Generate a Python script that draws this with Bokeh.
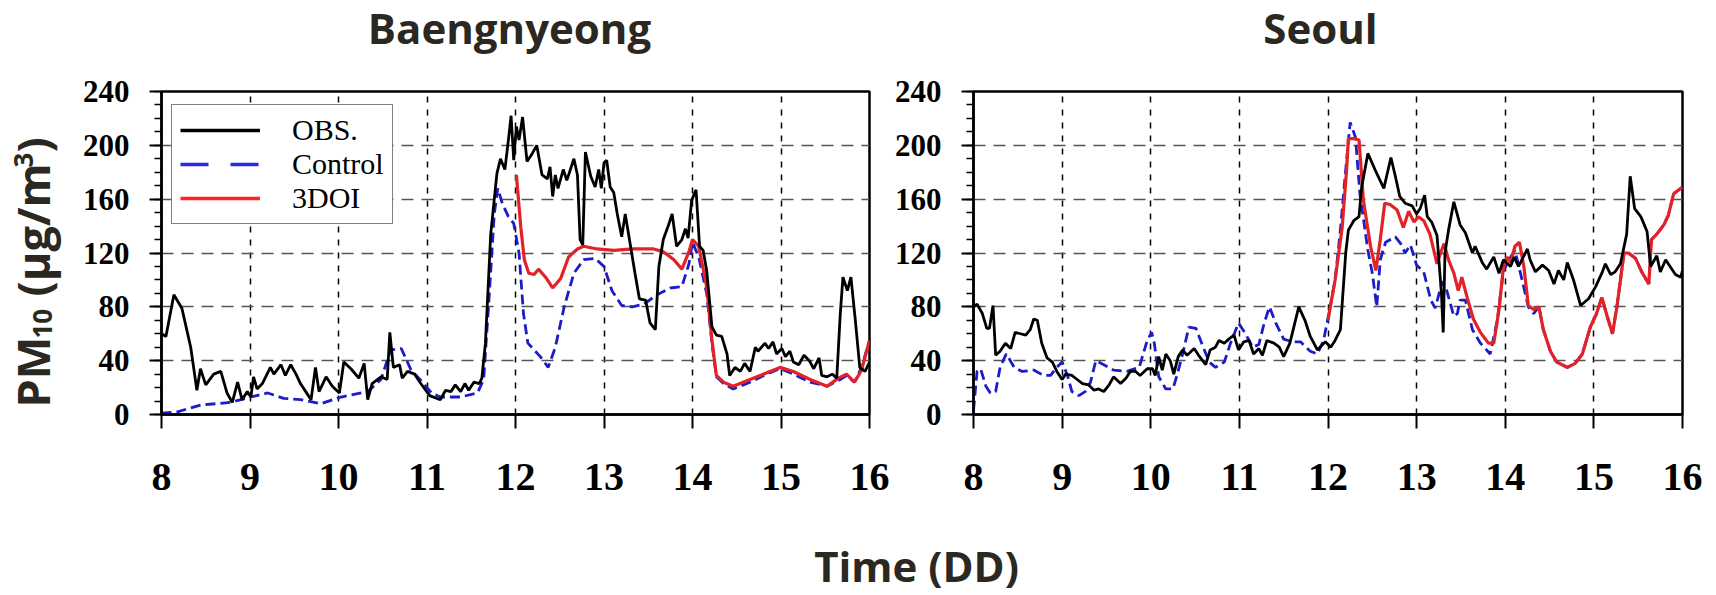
import math
from bokeh.plotting import figure
from bokeh.models import Range1d, FixedTicker, Legend, LegendItem
from bokeh.layouts import row, column
from bokeh.embed import file_html
from bokeh.resources import INLINE
from bokeh.core.properties import value

# ---------------- data ----------------
days = [8, 9, 10, 11, 12, 13, 14, 15, 16]
y_ticks = [0, 40, 80, 120, 160, 200, 240]
panel_titles = ["Baengnyeong", "Seoul"]
legend_labels = ["OBS.", "Control", "3DOI"]

bae_obs_t = [8.00, 8.05, 8.14, 8.23, 8.33, 8.40, 8.44, 8.50, 8.59, 8.67, 8.74, 8.80, 8.86, 8.91, 8.97,
             9.01, 9.04, 9.08, 9.14, 9.23, 9.27, 9.35, 9.40, 9.46, 9.52, 9.57, 9.63, 9.69, 9.74, 9.78,
             9.86, 9.93, 10.01, 10.06, 10.14, 10.23, 10.29, 10.33, 10.38, 10.48, 10.55, 10.58, 10.62,
             10.69, 10.72, 10.78, 10.86, 10.93, 11.03, 11.15, 11.21, 11.27, 11.32, 11.38, 11.43, 11.47,
             11.53, 11.59, 11.62, 11.66, 11.72, 11.79, 11.83, 11.88, 11.92, 11.95, 11.98, 12.01, 12.04,
             12.08, 12.13, 12.19, 12.24, 12.30, 12.36, 12.39, 12.42, 12.45, 12.48, 12.54, 12.58, 12.66,
             12.70, 12.73, 12.76, 12.79, 12.85, 12.90, 12.94, 12.97, 13.00, 13.03, 13.07, 13.11, 13.15,
             13.20, 13.24, 13.30, 13.35, 13.40, 13.47, 13.52, 13.58, 13.62, 13.67, 13.73, 13.77, 13.82,
             13.88, 13.92, 13.95, 13.99, 14.04, 14.08, 14.12, 14.16, 14.22, 14.27, 14.33, 14.39, 14.42,
             14.48, 14.54, 14.59, 14.65, 14.71, 14.74, 14.82, 14.86, 14.91, 14.95, 15.01, 15.05, 15.10,
             15.14, 15.20, 15.26, 15.32, 15.37, 15.43, 15.46, 15.52, 15.58, 15.63, 15.67, 15.70, 15.75,
             15.79, 15.84, 15.89, 15.95, 16.00]
bae_obs = [60, 58, 89, 79, 50, 18, 34, 22, 30, 32, 16, 9, 24, 11, 17,
           13, 28, 19, 23, 35, 30, 37, 29, 37, 30, 23, 17, 11, 35, 17,
           28, 21, 16, 39, 34, 27, 38, 11, 23, 28, 26, 61, 35,
           37, 27, 32, 30, 23, 14, 11, 18, 17, 22, 17, 23, 18,
           24, 23, 27, 53, 134, 179, 190, 182, 204, 222, 189, 214, 204,
           221, 188, 194, 200, 178, 175, 184, 162, 178, 168, 182, 174, 190,
           178, 130, 126, 195, 177, 169, 182, 168, 187, 189, 169, 165, 149,
           132, 149, 125, 105, 86, 85, 68, 63, 110, 130, 141, 149, 125,
           130, 138, 131, 159, 167, 125, 122, 107, 65, 59, 58, 45, 29,
           35, 32, 38, 32, 50, 47, 53, 49, 54, 45, 49, 43, 47,
           39, 37, 44, 40, 34, 42, 29, 28, 30, 27, 75, 102, 92,
           102, 70, 35, 32, 39]

bae_ctl_t = [8.00, 8.18, 8.44, 8.78, 9.01, 9.20, 9.38, 9.57, 9.80, 10.03, 10.33, 10.48, 10.59, 10.71,
             10.82, 10.95, 11.05, 11.15, 11.38, 11.57, 11.64, 11.70, 11.76, 11.80, 11.85, 11.92, 11.98,
             12.04, 12.09, 12.14, 12.21, 12.28, 12.37, 12.45, 12.55, 12.66, 12.77, 12.90, 13.00, 13.09,
             13.20, 13.32, 13.45, 13.60, 13.75, 13.88, 13.96, 14.00, 14.07, 14.16, 14.22, 14.27, 14.35,
             14.46, 14.65, 14.84, 14.99, 15.14, 15.33, 15.52, 15.67, 15.74, 15.83, 15.91, 16.00]
bae_ctl = [1, 2, 7, 9, 13, 16, 12, 11, 8, 13, 17, 26, 48, 49,
           33, 24, 16, 13, 13, 16, 26, 85, 149, 168, 157, 147, 142,
           120, 75, 53, 48, 43, 35, 50, 80, 105, 115, 116, 110, 92,
           81, 80, 82, 89, 94, 95, 112, 128, 117, 90, 53, 28, 23,
           19, 24, 30, 34, 30, 24, 21, 26, 29, 24, 35, 55]

bae_doi_t = [12.01, 12.06, 12.10, 12.15, 12.21, 12.26, 12.34, 12.42, 12.51, 12.60, 12.70, 12.77, 12.92,
             13.11, 13.33, 13.56, 13.67, 13.79, 13.88, 13.96, 14.00, 14.07, 14.16, 14.22, 14.27, 14.35,
             14.46, 14.65, 14.84, 14.99, 15.14, 15.33, 15.52, 15.65, 15.74, 15.83, 15.91, 16.00]
bae_doi = [178, 139, 115, 105, 104, 108, 102, 94, 101, 117, 123, 125, 123,
           122, 123, 123, 121, 115, 108, 121, 130, 125, 95, 55, 29, 24,
           21, 26, 31, 35, 32, 26, 21, 27, 30, 24, 33, 55]

seo_obs_t = [8.00, 8.04, 8.10, 8.15, 8.18, 8.22, 8.25, 8.30, 8.36, 8.42, 8.47, 8.53, 8.59, 8.64, 8.68,
             8.72, 8.77, 8.83, 8.89, 8.94, 9.00, 9.04, 9.11, 9.17, 9.23, 9.30, 9.36, 9.41, 9.47, 9.53,
             9.58, 9.66, 9.72, 9.77, 9.83, 9.88, 9.96, 10.02, 10.05, 10.09, 10.13, 10.17, 10.22, 10.26,
             10.31, 10.36, 10.41, 10.49, 10.54, 10.62, 10.67, 10.73, 10.77, 10.83, 10.88, 10.94, 10.99,
             11.05, 11.11, 11.16, 11.22, 11.26, 11.31, 11.39, 11.45,
             11.50, 11.57, 11.67, 11.74, 11.80, 11.88, 11.97, 12.03, 12.08, 12.14, 12.20, 12.23, 12.29,
             12.35, 12.38, 12.45, 12.53, 12.63, 12.71, 12.76, 12.81, 12.87, 12.95, 13.00, 13.04, 13.09,
             13.12, 13.17, 13.23, 13.28, 13.30, 13.32, 13.36, 13.42, 13.49, 13.55, 13.63, 13.66, 13.74,
             13.79, 13.87, 13.93, 13.98, 14.06, 14.10, 14.15, 14.25, 14.28, 14.34, 14.42, 14.49, 14.55,
             14.60, 14.66, 14.70, 14.77, 14.85, 14.94, 15.02, 15.09, 15.13, 15.19, 15.24, 15.30, 15.37,
             15.41, 15.46, 15.53, 15.60, 15.64, 15.71, 15.75, 15.81, 15.86, 15.92, 15.98, 16.00]
seo_obs = [80, 82, 75, 64, 64, 81, 44, 47, 53, 49, 61, 60, 59, 63, 71,
           70, 53, 42, 39, 32, 26, 30, 29, 26, 23, 22, 18, 19, 17, 22,
           28, 23, 27, 32, 32, 29, 34, 34, 29, 43, 33, 45, 40, 30,
           43, 48, 44, 49, 44, 37, 48, 50, 55, 53, 56, 59, 48,
           54, 55, 45, 49, 44, 55, 53, 50,
           43, 53, 80, 70, 58, 48, 54, 50, 55, 63, 120, 137, 144,
           147, 169, 194, 182, 168, 191, 177, 162, 157, 155, 149, 153, 163,
           147, 143, 133, 90, 61, 120, 137, 158, 141, 135, 120, 125, 113,
           108, 117, 105, 115, 110, 117, 110, 123, 115, 106, 111, 107, 97,
           107, 100, 113, 100, 81, 86, 95, 105, 112, 104, 106, 112, 134,
           177, 153, 147, 136, 110, 118, 106, 115, 110, 104, 102, 107]

seo_ctl_t = [8.00, 8.04, 8.08, 8.14, 8.19, 8.25, 8.30, 8.37, 8.46, 8.55, 8.68, 8.79, 8.87, 8.94, 9.00,
             9.06, 9.11, 9.19, 9.26, 9.32, 9.38, 9.47, 9.58, 9.73, 9.87, 9.96, 10.01, 10.04, 10.09, 10.17,
             10.25, 10.30, 10.36, 10.43, 10.51, 10.58, 10.66, 10.73, 10.83, 10.90, 10.99, 11.07, 11.15,
             11.22, 11.28, 11.34, 11.41, 11.50, 11.60, 11.69, 11.80, 11.88, 11.95, 12.01, 12.08, 12.14,
             12.20, 12.25, 12.31, 12.36, 12.45, 12.50, 12.55, 12.59, 12.65, 12.76, 12.82, 12.87, 12.93,
             13.00, 13.08, 13.16, 13.21, 13.29, 13.34, 13.42, 13.46, 13.49, 13.55, 13.63, 13.72, 13.83,
             13.91, 13.98, 14.06, 14.11, 14.19, 14.26, 14.32, 14.38, 14.43, 14.51, 14.58, 14.70, 14.79,
             14.87, 14.96, 15.03, 15.09, 15.15, 15.21, 15.26, 15.34, 15.39, 15.47, 15.54, 15.62, 15.65,
             15.71, 15.79, 15.84, 15.90, 15.96, 16.00]
seo_ctl = [3, 32, 34, 21, 16, 17, 35, 45, 35, 32, 33, 29, 29, 35, 39,
           29, 17, 14, 17, 24, 40, 37, 33, 32, 35, 55, 61, 53, 28, 19,
           19, 30, 45, 65, 64, 52, 39, 35, 39, 53, 68, 60, 50,
           52, 68, 80, 68, 56, 54, 54, 47, 45, 55, 75, 100, 137,
           182, 217, 206, 164, 122, 105, 80, 115, 128, 132, 127, 120, 126,
           111, 106, 85, 79, 99, 92, 73, 75, 85, 85, 63, 53, 45,
           70, 107, 117, 122, 100, 80, 75, 80, 63, 47, 39, 35, 38,
           45, 65, 75, 87, 73, 60, 80, 120, 120, 116, 106, 97, 130,
           134, 141, 148, 164, 167, 169]

seo_doi_t = [12.00, 12.08, 12.16, 12.21, 12.23, 12.29, 12.35, 12.40, 12.48, 12.54, 12.59, 12.64, 12.70,
             12.78, 12.85, 12.91, 12.97, 13.02, 13.08, 13.15, 13.23, 13.27, 13.31, 13.36, 13.42, 13.47,
             13.51, 13.57, 13.64, 13.72, 13.81, 13.87, 13.93, 13.98, 14.02, 14.06, 14.11, 14.16, 14.21,
             14.26, 14.32, 14.38, 14.43, 14.51, 14.58, 14.70, 14.79, 14.87, 14.96, 15.03, 15.09, 15.15,
             15.21, 15.26, 15.34, 15.39, 15.47, 15.54, 15.62, 15.65, 15.71, 15.79, 15.84, 15.90, 15.96,
             16.00]
seo_doi = [70, 100, 139, 182, 205, 205, 204, 159, 125, 107, 130, 157, 156,
           152, 139, 151, 143, 147, 144, 134, 112, 120, 127, 115, 105, 92,
           102, 87, 71, 61, 53, 53, 78, 110, 117, 113, 125, 128, 110,
           81, 78, 80, 63, 47, 39, 35, 38, 45, 65, 75, 87, 73,
           60, 80, 120, 120, 116, 106, 97, 130, 134, 141, 148, 164, 167,
           169]

for a, b in [(bae_obs_t, bae_obs), (bae_ctl_t, bae_ctl), (bae_doi_t, bae_doi),
             (seo_obs_t, seo_obs), (seo_ctl_t, seo_ctl), (seo_doi_t, seo_doi)]:
    assert len(a) == len(b), (len(a), len(b))

# ---------------- style ----------------
TXT = "#2b2822"
BLUE = "#1c1cc8"
RED = "#e32228"
SANS = value("Open Sans")
B_TOP, B_BOT = 20, 110
ROW_H = B_TOP + 323 + B_BOT


def blank(width, height, top=0, bottom=0):
    p = figure(width=width, height=height, x_range=Range1d(0, width),
               y_range=Range1d(0, height - top - bottom),
               min_border=0, min_border_top=top, min_border_bottom=bottom,
               x_axis_location=None, y_axis_location=None,
               toolbar_location=None, output_backend="svg")
    p.title = None
    p.outline_line_color = None
    p.grid.visible = False
    return p


def panel(width, bl, br, obs_t, obs, ctl_t, ctl, doi_t, doi, with_legend=False):
    p = figure(width=width, height=ROW_H, x_range=Range1d(8, 16), y_range=Range1d(0, 240),
               min_border_left=bl, min_border_right=br, min_border_top=B_TOP, min_border_bottom=B_BOT,
               toolbar_location=None, output_backend="svg")
    p.title = None
    p.outline_line_color = "black"
    p.outline_line_width = 2.5
    p.outline_line_alpha = 1.0

    p.xaxis.ticker = FixedTicker(ticks=days)
    p.yaxis.ticker = FixedTicker(ticks=y_ticks, minor_ticks=list(range(0, 241, 10)))
    for ax in (p.xaxis[0], p.yaxis[0]):
        ax.axis_line_width = 2.5
        ax.axis_line_color = "black"
        ax.major_tick_line_width = 2
        ax.major_tick_in = 0
        ax.minor_tick_in = 0
        ax.minor_tick_out = 7
        ax.minor_tick_line_width = 1.5
        ax.major_label_text_font = "Liberation Serif"
        ax.major_label_text_font_style = "bold"
        ax.major_label_text_color = "black"
    p.xaxis.major_tick_out = 14
    p.xaxis.major_label_text_font_size = "40px"
    p.xaxis.major_label_standoff = 35
    p.yaxis.major_tick_out = 12
    p.yaxis.major_label_text_font_size = "31px"
    p.yaxis.major_label_standoff = 20

    p.xgrid.ticker = FixedTicker(ticks=days[1:-1])
    p.xgrid.grid_line_color = "black"
    p.xgrid.grid_line_dash = "6 7"
    p.xgrid.grid_line_width = 1.5
    p.ygrid.ticker = FixedTicker(ticks=y_ticks[1:-1])
    p.ygrid.grid_line_color = "#555555"
    p.ygrid.grid_line_dash = "12 8"
    p.ygrid.grid_line_width = 1.5

    p.line(ctl_t, ctl, line_color=BLUE, line_width=2.8, line_dash="10 5")
    p.line(doi_t, doi, line_color=RED, line_width=3.2)
    p.line(obs_t, obs, line_color="black", line_width=2.8)

    if with_legend:
        far = [-100, -100]
        g_obs = p.line([8, 9], far, line_color="black", line_width=3.5)
        g_ctl = p.line([8, 9], far, line_color="#2a2ae0", line_width=3.5, line_dash="28 22")
        g_doi = p.line([8, 9], far, line_color="#ff2020", line_width=3.5)
        leg = Legend(items=[LegendItem(label=legend_labels[0], renderers=[g_obs]),
                            LegendItem(label=legend_labels[1], renderers=[g_ctl]),
                            LegendItem(label=legend_labels[2], renderers=[g_doi])],
                     location=(10, 190))
        leg.label_text_font = "Liberation Serif"
        leg.label_text_font_size = "30px"
        leg.label_text_line_height = 1.0
        leg.label_text_color = "black"
        leg.glyph_width = 80
        leg.glyph_height = 30
        leg.label_height = 30
        leg.spacing = 0
        leg.padding = 8
        leg.margin = 0
        leg.label_standoff = 32
        leg.border_line_color = "black"
        leg.border_line_width = 1.5
        leg.background_fill_alpha = 1.0
        p.add_layout(leg)
    return p


# titles strip (page y 0..71)
pt = blank(1716, 71)
pt.text(x=[509, 1320], y=[44, 44], text=panel_titles, text_font=SANS, text_font_style="bold",
        text_font_size="42px", text_color=TXT, text_align="center", text_baseline="alphabetic")

# y-axis label strip (page x 0..68); frame aligned with the panels' frames (page y 91..414)
p0 = blank(68, ROW_H, top=B_TOP, bottom=B_BOT)
kw = dict(text_font=SANS, text_font_style="bold", text_color=TXT, angle=math.pi / 2,
          text_align="left", text_baseline="alphabetic")
p0.text(x=[32], y=[7], text=["PM"], text_font_size="45px", **kw)
p0.text(x=[42], y=[76], text=["10"], text_font_size="26px", **kw)
p0.text(x=[32], y=[118], text=["(\u03bcg/m"], text_font_size="45px", **kw)
p0.text(x=[23], y=[247], text=["3"], text_font_size="26px", **kw)
p0.text(x=[32], y=[262], text=[")"], text_font_size="45px", **kw)

p1 = panel(822, 93, 21, bae_obs_t, bae_obs, bae_ctl_t, bae_ctl, bae_doi_t, bae_doi, with_legend=True)
p2 = panel(826, 83, 34, seo_obs_t, seo_obs, seo_ctl_t, seo_ctl, seo_doi_t, seo_doi)

# x-axis label strip (page y 524..594)
P3_H = 594 - (71 + ROW_H)
p3 = blank(1716, P3_H)
p3.text(x=[916], y=[29], text=["Time (DD)"], text_font=SANS, text_font_style="bold",
        text_font_size="42px", text_color=TXT, text_align="center", text_baseline="alphabetic")

layout = column(pt, row(p0, p1, p2), p3)
open("out.html", "w").write(file_html(layout, INLINE))
